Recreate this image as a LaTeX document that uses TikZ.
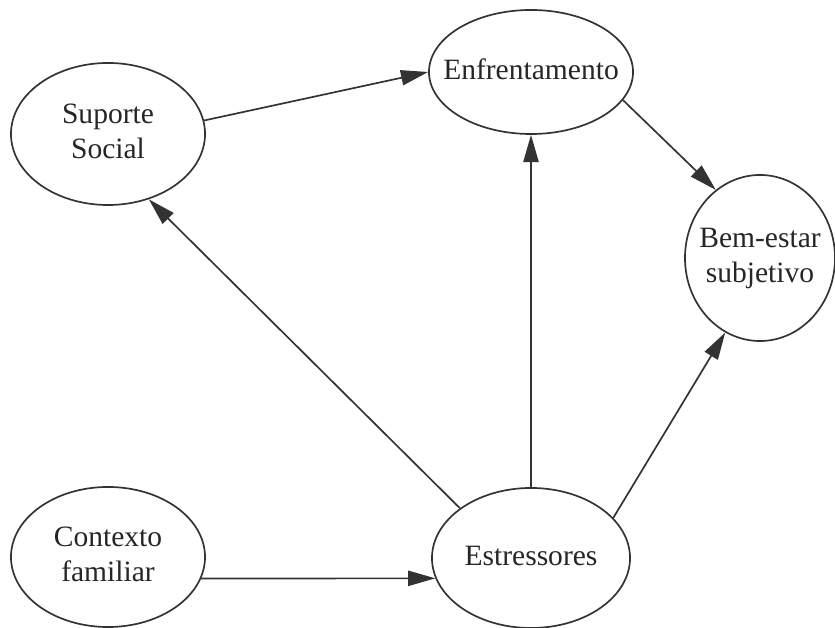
\documentclass[tikz,border=0pt]{standalone}
\usepackage{fontspec}
\setmainfont{Liberation Serif}
\usetikzlibrary{arrows.meta,shapes.geometric}
\newcommand{\txt}[1]{\makebox[0pt]{\begin{tabular}{@{}c@{}}#1\end{tabular}}}

\begin{document}
\begin{tikzpicture}[x=0.025cm,y=0.025cm,
    var/.style={ellipse, draw=black!80, line width=1.2pt, inner sep=0pt,
      font=\fontsize{21}{25}\selectfont, text=black!85},
    seta/.style={draw=black!80, line width=1.2pt, -{Triangle[length=0.68cm,width=0.38cm]}}]
  \useasboundingbox (0,0) rectangle (835,628);
  \node[var, minimum width=4.85cm, minimum height=3.55cm] (sup) at (108,494) {\txt{Suporte\\Social}};
  \node[var, minimum width=5.1cm, minimum height=3.1cm] (enf) at (531,556) {\txt{Enfrentamento}};
  \node[var, minimum width=3.75cm, minimum height=4.15cm] (bem) at (760,370) {\txt{Bem-estar\\subjetivo}};
  \node[var, minimum width=4.85cm, minimum height=3.5cm] (ctx) at (108,71) {\txt{Contexto\\familiar}};
  \node[var, minimum width=4.95cm, minimum height=3.5cm] (est) at (531,70) {\txt{Estressores}};

  \draw[seta] (sup.8) -- (enf.180);
  \draw[seta] (enf.-17) -- (bem.123);
  \draw[seta] (est.north) -- (enf.south);
  \draw[seta] (est.145) -- (sup.-58);
  \draw[seta] (est.26) -- (bem.-115);
  \draw[seta] (ctx.-13) -- (est.-168);
\end{tikzpicture}
\end{document}
